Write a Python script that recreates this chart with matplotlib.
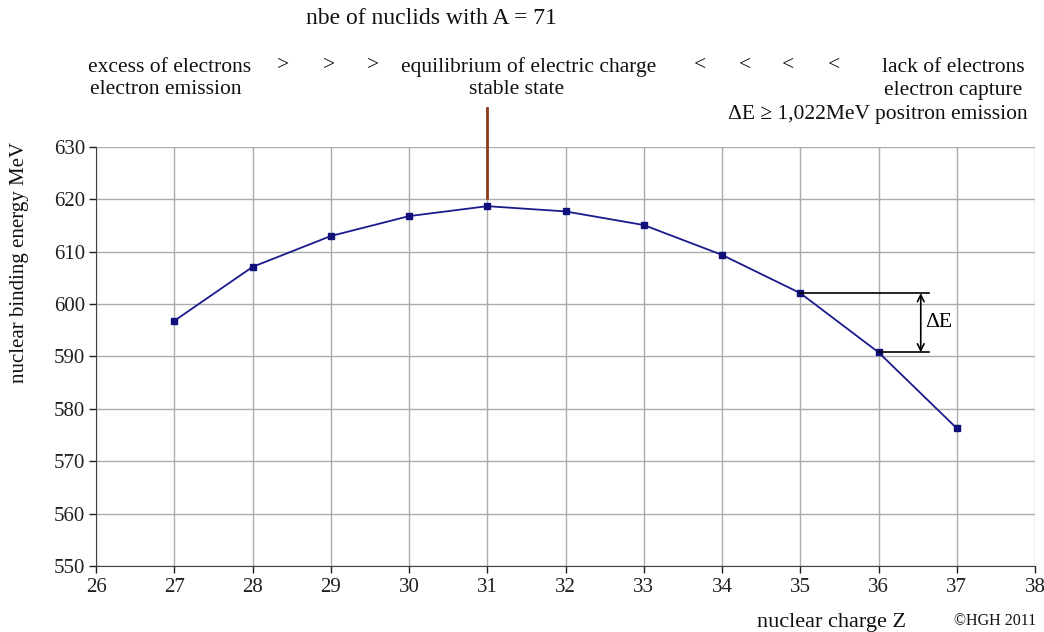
import matplotlib
matplotlib.use("Agg")
import matplotlib.pyplot as plt

Z = [27, 28, 29, 30, 31, 32, 33, 34, 35, 36, 37]
nbe = [596.8, 607.1, 613.0, 616.8, 618.7, 617.7, 615.1, 609.4, 602.1, 590.8, 576.3]
xticks = list(range(26, 39))
yticks = list(range(550, 631, 10))

plt.rcParams['font.family'] = ['Liberation Serif', 'DejaVu Serif']
FS = 15.5

fig = plt.figure(figsize=(10.44, 6.32), dpi=100)
ax = fig.add_axes([96/1044, 1-566/632, (1035-96)/1044, (566-147)/632])
ax.set_xlim(26, 38)
ax.set_ylim(550, 630)
ax.set_xticks(xticks)
ax.set_yticks(yticks)
ax.grid(True, color='#ababab', lw=1)
ax.set_axisbelow(True)
for s in ['top', 'right']:
    ax.spines[s].set_visible(False)
for s in ['left', 'bottom']:
    ax.spines[s].set_color('#404040')
ax.tick_params(direction='out', length=5, labelsize=15, colors='#202020', width=1)
ax.tick_params(axis='y', pad=3)
ax.tick_params(axis='x', pad=4)

ax.plot(Z, nbe, color='#1a1a8c', lw=1.3, marker='s', ms=5, mfc='#10107a', mec='#10107a', zorder=3)

# stable-state marker
ax.plot([31, 31], [620.3, 637.5], color='#8b3a1a', lw=2, clip_on=False, zorder=4)

# delta E annotation
xe = 36.65
ax.plot([35, xe], [nbe[8], nbe[8]], color='black', lw=1.2, zorder=4)
ax.plot([36, xe], [nbe[9], nbe[9]], color='black', lw=1.2, zorder=4)
ax.annotate('', xy=(36.54, nbe[8]), xytext=(36.54, nbe[9]),
            arrowprops=dict(arrowstyle='<->', color='black', lw=1.2, mutation_scale=12,
                            shrinkA=0, shrinkB=0))
ax.text(36.6, (nbe[8]+nbe[9])/2 + 0.1, 'ΔE', fontsize=FS, va='center', ha='left')

def ft(x, y, s, ha='left', fs=FS, **kw):
    fig.text(x/1044, 1-y/632, s, ha=ha, va='center', fontsize=fs, color='#111111', **kw)

ft(431, 19, 'nbe of nuclids with A = 71', ha='center', fs=17)
ft(88, 67, 'excess of electrons')
ft(90, 90, 'electron emission')
for xg in [283, 329, 373]:
    ft(xg, 65, '>', ha='center')
ft(529, 67, 'equilibrium of electric charge', ha='center')
ft(517, 90, 'stable state', ha='center')
for xl in [700, 745, 788, 834]:
    ft(xl, 65, '<', ha='center')
ft(1025, 67, 'lack of electrons', ha='right')
ft(1022, 90, 'electron capture', ha='right')
ft(1028, 115, 'ΔE ≥ 1,022MeV positron emission', ha='right')
ft(20, 262, 'nuclear binding energy MeV', ha='center', rotation=90, fs=15)
ft(831, 622, 'nuclear charge Z', ha='center', fs=16)
ft(995, 621, '©HGH 2011', ha='center', fs=11.5)

fig.savefig('out.png', dpi=100)
